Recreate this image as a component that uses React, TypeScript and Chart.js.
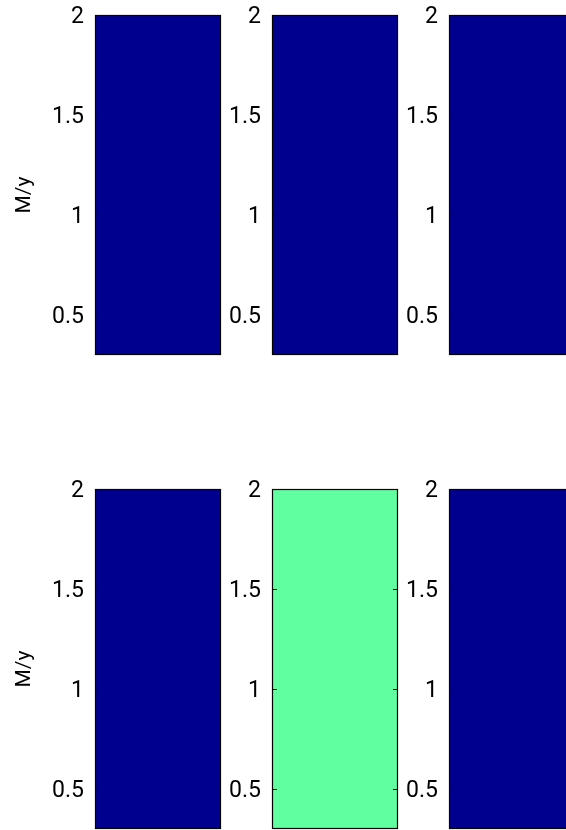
import React, { useEffect, useRef } from 'react';
import { Chart, registerables } from 'chart.js';

Chart.register(...registerables);

// ---- data ----
const Y_MIN = 0.3;
const Y_MAX = 2;
const Y_TICKS = [0.5, 1, 1.5, 2];
const Y_LABEL = 'M/y';
// colormap levels (jet): 0 = lowest, 1 = middle
const PALETTE = ['#00008F', '#60FF9F'];
// each panel: list of cells [from, to, level]
const PANEL_1: number[][] = [[0.3, 2, 0]];
const PANEL_2: number[][] = [[0.3, 2, 0]];
const PANEL_3: number[][] = [[0.3, 2, 0]];
const PANEL_4: number[][] = [[0.3, 2, 0], [0.3, 0.31, 1]];
const PANEL_5: number[][] = [[0.3, 2, 1]];
const PANEL_6: number[][] = [[0.3, 2, 0]];
const PANELS = [PANEL_1, PANEL_2, PANEL_3, PANEL_4, PANEL_5, PANEL_6];

// ---- layout ----
const COL_LEFT = [95, 272, 449];
const ROW_TOP = [15, 489];
const PANEL_W = 126;
const PANEL_H = 340;
const AXIS_W = 95;
const PAD_V = 30;
const PAD_R = 2;

const framePlugin = {
  id: 'panelFrame',
  afterDatasetsDraw(chart: any, _args: any, opts: any) {
    const { ctx, chartArea } = chart;
    const { left, top, right, bottom } = chartArea;
    const y = chart.scales.y;
    ctx.save();
    ctx.strokeStyle = '#000';
    ctx.lineWidth = 1.2;
    ctx.strokeRect(left + 0.5, top + 0.5, right - left - 1, bottom - top - 1);
    ctx.beginPath();
    ctx.lineWidth = 1;
    for (const t of y.ticks) {
      const py = Math.round(y.getPixelForValue(t.value)) + 0.5;
      ctx.moveTo(left, py);
      ctx.lineTo(left + 5, py);
      ctx.moveTo(right - 5, py);
      ctx.lineTo(right, py);
    }
    ctx.stroke();
    if (opts && opts.yLabel) {
      ctx.translate(left - 70, (top + bottom) / 2 + 10);
      ctx.rotate(-Math.PI / 2);
      ctx.fillStyle = '#000';
      ctx.font = '21px Roboto';
      ctx.textAlign = 'center';
      ctx.textBaseline = 'middle';
      ctx.fillText(opts.yLabel, 0, 0);
    }
    ctx.restore();
  },
};

function Panel({ cells, col, row }: { cells: number[][]; col: number; row: number }) {
  const ref = useRef<HTMLCanvasElement | null>(null);
  useEffect(() => {
    if (!ref.current) return;
    const chart = new Chart(ref.current, {
      type: 'bar',
      data: {
        labels: [''],
        datasets: cells.map((c) => ({
          data: [[c[0], c[1]]] as any,
          backgroundColor: PALETTE[c[2]],
          borderWidth: 0,
          barPercentage: 1,
          categoryPercentage: 1,
          grouped: false,
        })),
      },
      options: {
        animation: false,
        responsive: false,
        devicePixelRatio: 1,
        layout: { padding: { top: PAD_V, bottom: PAD_V, left: 0, right: PAD_R } },
        plugins: {
          legend: { display: false },
          tooltip: { enabled: false },
          panelFrame: { yLabel: col === 0 ? Y_LABEL : '' },
        } as any,
        scales: {
          x: { display: false, grid: { display: false } },
          y: {
            min: Y_MIN,
            max: Y_MAX,
            afterBuildTicks: (s: any) => {
              s.ticks = Y_TICKS.map((v) => ({ value: v }));
            },
            afterFit: (s: any) => {
              s.width = AXIS_W;
            },
            grid: { display: false, drawTicks: false },
            border: { display: false },
            ticks: {
              padding: 11,
              color: '#000',
              font: { family: 'Roboto', size: 23 },
              labelOffset: 2,
              callback: (v: any) => String(v),
            },
          },
        },
      },
      plugins: [framePlugin],
    });
    return () => chart.destroy();
  }, [cells, col, row]);
  const w = AXIS_W + PANEL_W + PAD_R;
  const h = PANEL_H + 2 * PAD_V;
  return (
    <canvas
      ref={ref}
      width={w}
      height={h}
      style={{
        position: 'absolute',
        left: COL_LEFT[col] - AXIS_W,
        top: ROW_TOP[row] - PAD_V,
        width: w,
        height: h,
      }}
    />
  );
}

export default function App() {
  return (
    <div
      style={{
        position: 'absolute',
        left: 0,
        top: 0,
        width: 566,
        height: 830,
        overflow: 'hidden',
        background: '#fff',
      }}
    >
      {PANELS.map((cells, i) => (
        <Panel key={i} cells={cells} col={i % 3} row={Math.floor(i / 3)} />
      ))}
    </div>
  );
}
